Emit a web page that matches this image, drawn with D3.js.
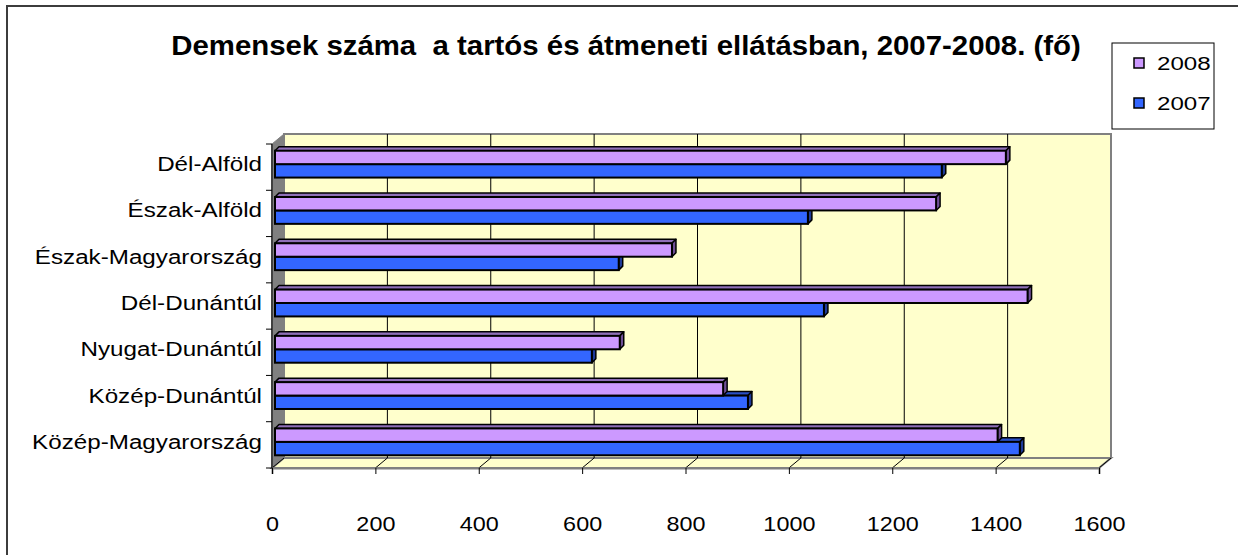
<!DOCTYPE html>
<html>
<head>
<meta charset="utf-8">
<script src="https://cdn.jsdelivr.net/npm/d3@7"></script>
<style>
  body { margin: 0; background: #fff; }
  text { font-family: "Liberation Sans", Arial, sans-serif; fill: #000; }
</style>
</head>
<body>
<svg id="chart" width="1238" height="555"></svg>
<script>
// regions, top to bottom as drawn
const regions = ["Dél-Alföld", "Észak-Alföld", "Észak-Magyarország", "Dél-Dunántúl",
                 "Nyugat-Dunántúl", "Közép-Dunántúl", "Közép-Magyarország"];
const years = ["2008", "2007"];
const values2008 = [1414, 1279, 768, 1456, 667, 867, 1398];
const values2007 = [1290, 1031, 665, 1062, 613, 915, 1441];
const xTicks = [0, 200, 400, 600, 800, 1000, 1200, 1400, 1600];
const title = "Demensek száma  a tartós és átmeneti ellátásban, 2007-2008. (fő)";

const colors = {
  "2008": {front: "#cc99ff", top: "#8f6fb8", side: "#6f4f96"},
  "2007": {front: "#3366ff", top: "#2a4fc4", side: "#1f3b99"}
};

const svg = d3.select("#chart");

// the old excel picture is stretched sideways, so text gets a horizontal scale
function stretched(sel, x, y, sx) {
  return sel.attr("transform", `translate(${x},${y}) scale(${sx},1)`);
}

// outer frame (runs off the right/bottom of the picture)
svg.append("rect")
    .attr("x", 7).attr("y", 6).attr("width", 1260).attr("height", 580)
    .attr("fill", "none").attr("stroke", "#3c3c3c").attr("stroke-width", 2);

stretched(svg.append("text"), 626, 55, 1.05)
    .attr("text-anchor", "middle")
    .attr("font-size", 28).attr("font-weight", "bold")
    .style("white-space", "pre")
    .text(title);

var x = d3.scaleLinear().domain([0, 1600]).range([272, 1099]);
var y = d3.scaleBand().domain(regions).range([144, 468]).paddingInner(0.42).paddingOuter(0.21);
var ySub = d3.scaleBand().domain(years).range([0, y.bandwidth()]);

var depthX = 12, depthY = -10;   // back wall offset
var plotTop = 144, plotBottom = 468;

// walls
var g = svg.append("g");
g.append("rect")
    .attr("x", x(0) + depthX).attr("y", plotTop + depthY)
    .attr("width", x(1600) - x(0)).attr("height", plotBottom - plotTop)
    .attr("fill", "#ffffcc").attr("stroke", "#808080").attr("stroke-width", 2);
g.append("path")
    .attr("d", `M${x(0)},${plotTop}L${x(0) + depthX},${plotTop + depthY}L${x(0) + depthX},${plotBottom + depthY}L${x(0)},${plotBottom}Z`)
    .attr("fill", "#808080").attr("stroke", "#808080");
g.append("path")
    .attr("d", `M${x(0)},${plotBottom}L${x(0) + depthX},${plotBottom + depthY}L${x(1600) + depthX},${plotBottom + depthY}L${x(1600)},${plotBottom}Z`)
    .attr("fill", "#ffffcc").attr("stroke", "#808080").attr("stroke-width", 2);

// gridlines on back wall + floor
xTicks.slice(1, -1).forEach(t => {
  g.append("line")
      .attr("x1", x(t) + depthX).attr("x2", x(t) + depthX)
      .attr("y1", plotTop + depthY).attr("y2", plotBottom + depthY)
      .attr("stroke", "#000").attr("stroke-width", 1);
});
xTicks.forEach(t => {
  g.append("line")
      .attr("x1", x(t)).attr("x2", x(t) + depthX)
      .attr("y1", plotBottom).attr("y2", plotBottom + depthY)
      .attr("stroke", "#000").attr("stroke-width", 1);
});

// axes
var axisX = svg.append("g").attr("transform", "translate(0," + plotBottom + ")")
    .call(d3.axisBottom(x).tickValues(xTicks).tickSize(6).tickFormat(d3.format("d")));
axisX.select(".domain").attr("stroke", "#808080").attr("stroke-width", 2);
axisX.selectAll(".tick line").attr("stroke", "#000");
axisX.selectAll(".tick text").remove();
axisX.selectAll(".tick").each(function(t) {
  stretched(d3.select(this).append("text"), 0, 63, 1.17)
      .attr("text-anchor", "middle")
      .attr("font-size", 20)
      .text(d3.format("d")(t));
});

var step = y.step();
var axisY = svg.append("g");
axisY.append("line").attr("x1", x(0)).attr("x2", x(0)).attr("y1", plotTop).attr("y2", plotBottom)
    .attr("stroke", "#404040").attr("stroke-width", 2);
d3.range(regions.length + 1).forEach(i => {
  axisY.append("line").attr("x1", x(0) - 6).attr("x2", x(0))
      .attr("y1", plotTop + i * step).attr("y2", plotTop + i * step)
      .attr("stroke", "#000");
});
regions.forEach(r => {
  stretched(axisY.append("text"), 262, y(r) + y.bandwidth() / 2 - 3, 1.21)
      .attr("dy", "0.35em")
      .attr("text-anchor", "end")
      .attr("font-size", 20)
      .text(r);
});

// 3D bars
var d = 4, shiftX = 3, shiftY = -3;
var rows = [];
regions.forEach((r, i) => {
  rows.push({region: r, year: "2007", value: values2007[i]});
  rows.push({region: r, year: "2008", value: values2008[i]});
});

var bars = svg.append("g").selectAll("g.bar").data(rows).enter().append("g").attr("class", "bar");
bars.each(function(b) {
  var sel = d3.select(this);
  var x0 = x(0) + shiftX, x1 = x(b.value) + shiftX;
  var y0 = y(b.region) + ySub(b.year) + shiftY, h = ySub.bandwidth();
  var c = colors[b.year];
  sel.append("path")
      .attr("d", `M${x0},${y0}L${x0 + d},${y0 - d}L${x1 + d},${y0 - d}L${x1},${y0}Z`)
      .attr("fill", c.top).attr("stroke", "#000").attr("stroke-width", 1.5).attr("stroke-linejoin", "round");
  sel.append("path")
      .attr("d", `M${x1},${y0}L${x1 + d},${y0 - d}L${x1 + d},${y0 + h - d}L${x1},${y0 + h}Z`)
      .attr("fill", c.side).attr("stroke", "#000").attr("stroke-width", 1.5).attr("stroke-linejoin", "round");
  sel.append("rect")
      .attr("x", x0).attr("y", y0).attr("width", x1 - x0).attr("height", h)
      .attr("fill", c.front).attr("stroke", "#000").attr("stroke-width", 2);
});

// legend
var legend = svg.append("g");
legend.append("rect")
    .attr("x", 1112).attr("y", 43).attr("width", 102).attr("height", 86)
    .attr("fill", "#fff").attr("stroke", "#000").attr("stroke-width", 1);
years.forEach((yr, i) => {
  legend.append("rect")
      .attr("x", 1134).attr("y", 58 + i * 40).attr("width", 10).attr("height", 10)
      .attr("fill", colors[yr].front).attr("stroke", "#000").attr("stroke-width", 1.5);
  stretched(legend.append("text"), 1157, 70 + i * 40, 1.27)
      .attr("font-size", 19).text(yr);
});
</script>
</body>
</html>
